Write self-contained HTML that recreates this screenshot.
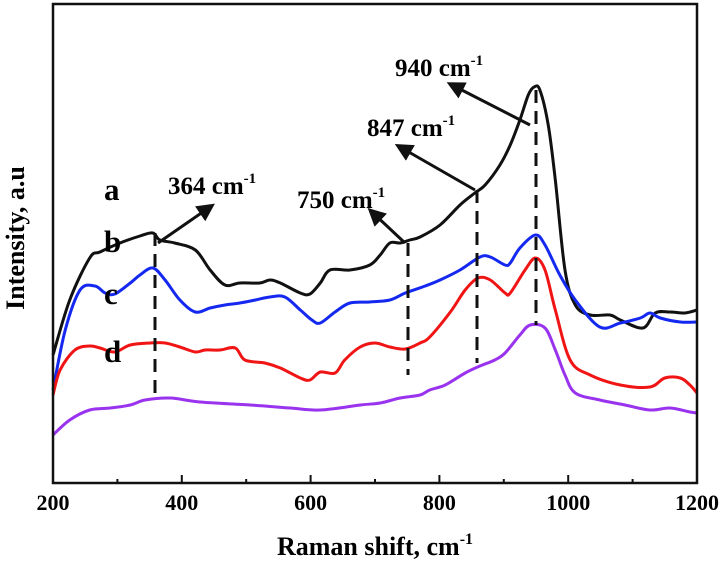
<!DOCTYPE html>
<html><head><meta charset="utf-8"><style>
html,body{margin:0;padding:0;background:#fff;}
svg{display:block;font-family:"Liberation Serif",serif;font-weight:bold;}
</style></head><body>
<svg id="chart" width="727" height="565" viewBox="0 0 727 565"></svg>
<script>
const xTicks=[200,400,600,800,1000,1200];
const xMinor=[300,500,700,900,1100];
const seriesNames=["a","b","c","d"];
const seriesColors=["#111111","#1428f0","#f01414","#9933ee"];
const aX=[200,226,257,273,304,335,355,366,389,421,444,467,490,521,537,553,584,599,615,630,661,692,708,723,739,754,770,801,832,855,871,894,910,925,938,947,956,969,980,995,1011,1034,1065,1081,1116,1135,1158,1181,1200];
const aY=[128,183,225,231,240,247,250,243,240,233,213,198,200,200,203,200,190,189,200,213,213,218,228,240,240,243,246,258,278,290,298,318,338,363,388,396,393,358,303,213,178,168,168,163,155,170,171,170,173];
const bX=[200,219,242,265,281,296,320,335,355,374,397,421,444,467,490,514,537,560,584,602,615,638,661,692,723,747,778,801,832,863,879,902,910,925,949,964,987,1011,1049,1081,1112,1127,1143,1174,1200];
const bY=[93,153,193,197,190,189,200,208,215,203,183,171,175,178,180,183,186,186,173,163,160,171,180,181,183,190,197,203,213,226,226,218,220,235,248,238,208,183,156,160,165,170,165,161,161];
const cX=[200,211,234,257,273,296,320,351,374,397,421,436,459,483,498,529,553,584,599,615,638,653,677,700,723,747,770,785,817,840,860,879,902,910,933,949,964,980,1003,1034,1081,1127,1150,1174,1189,1200];
const cY=[88,113,133,137,135,131,138,140,140,136,131,133,133,135,123,120,115,105,103,111,110,123,136,140,136,134,140,146,171,193,205,203,190,190,213,225,213,173,123,108,98,96,105,105,98,90];
const dX=[200,226,257,289,320,343,382,428,506,568,615,677,708,739,770,785,809,840,863,886,902,925,941,964,980,995,1011,1049,1088,1127,1158,1189,1200];
const dY=[48,63,73,75,78,83,85,81,78,75,73,78,80,85,88,93,98,110,117,123,130,148,158,155,133,108,90,83,78,73,75,71,70];
const xsArr=[aX,bX,cX,dX], ysArr=[aY,bY,cY,dY];
const L=53,R=697,T=4,B=483;
const sx=v=>L+(v-200)/1000*(R-L);
const sy=v=>B-v;
const NS="http://www.w3.org/2000/svg";
const svg=document.getElementById('chart');
function mk(t,attrs,parent){const e=document.createElementNS(NS,t);for(const k in attrs)e.setAttribute(k,attrs[k]);(parent||svg).appendChild(e);return e;}
const gS=mk('g',{});


for(let s=0;s<4;s++){
  const xs=xsArr[s],ys=ysArr[s];
  const pts=xs.map((x,i)=>[sx(x),sy(ys[i])]);
  let d='M'+pts[0][0]+','+pts[0][1];
  for(let i=0;i<pts.length-1;i++){
    const p0=pts[Math.max(0,i-1)],p1=pts[i],p2=pts[i+1],p3=pts[Math.min(pts.length-1,i+2)];
    const c1=[p1[0]+(p2[0]-p0[0])/6,p1[1]+(p2[1]-p0[1])/6];
    const c2=[p2[0]-(p3[0]-p1[0])/6,p2[1]-(p3[1]-p1[1])/6];
    d+=` C${c1[0]},${c1[1]} ${c2[0]},${c2[1]} ${p2[0]},${p2[1]}`;
  }
  const p=mk('path',{d:d,fill:'none',stroke:seriesColors[s],'stroke-width':3,'stroke-linejoin':'round'},gS);
  
  
}
const dashes=[[155,233,400],[408,243,375],[477,190,363],[536,90,325]];
dashes.forEach(q=>{
  const l=mk('line',{x1:q[0],y1:q[1],x2:q[0],y2:q[2],stroke:'#111','stroke-width':3,'stroke-dasharray':'13,8'});
  
  
});
mk('defs',{}).innerHTML='<marker id="ah" markerWidth="6" markerHeight="6" refX="4" refY="3" orient="auto" markerUnits="strokeWidth"><path d="M0,0 L6,3 L0,6 z" fill="#111"/></marker>';
const arrows=[[158,243,210,207],[405,243,372,212],[475,190,400,147],[530,125,452,85]];
arrows.forEach(a=>{
  const l=mk('line',{x1:a[0],y1:a[1],x2:a[2],y2:a[3],stroke:'#111','stroke-width':3,'marker-end':'url(#ah)'});
  
  
});
const labs=[['364',168,194],['750',297,208],['847',367,136],['940',395,76]];
labs.forEach(t=>{
  const e=mk('text',{x:t[1],y:t[2],'font-size':25});
  e.innerHTML=t[0]+' cm<tspan dy="-11" font-size="15">-1</tspan>';
  
  
});
const letters=[['a',104,200],['b',104,252],['c',104,304],['d',104,362]];
letters.forEach(t=>{
  const e=mk('text',{x:t[1],y:t[2],'font-size':31});
  e.textContent=t[0];
  
  
});
const f=mk('rect',{x:L,y:T,width:R-L,height:B-T,fill:'none',stroke:'#111','stroke-width':2.5});


xTicks.forEach(v=>{
  const l=mk('line',{x1:sx(v),x2:sx(v),y1:B,y2:B-8,stroke:'#111','stroke-width':2});
  
  
  const t=mk('text',{x:sx(v),y:510,'font-size':22,'text-anchor':'middle'});
  t.textContent=v;
  
  
});
xMinor.forEach(v=>{
  const l=mk('line',{x1:sx(v),x2:sx(v),y1:B,y2:B-4,stroke:'#111','stroke-width':2});
  
  
});
const xt=mk('text',{x:375,y:555,'font-size':26,'text-anchor':'middle'});
xt.innerHTML='Raman shift, cm<tspan dy="-11" font-size="16">-1</tspan>';


const yt=mk('text',{x:0,y:0,'font-size':26,'text-anchor':'middle',transform:'translate(24,238) rotate(-90)'});
yt.textContent='Intensity, a.u';


</script>
</body></html>
